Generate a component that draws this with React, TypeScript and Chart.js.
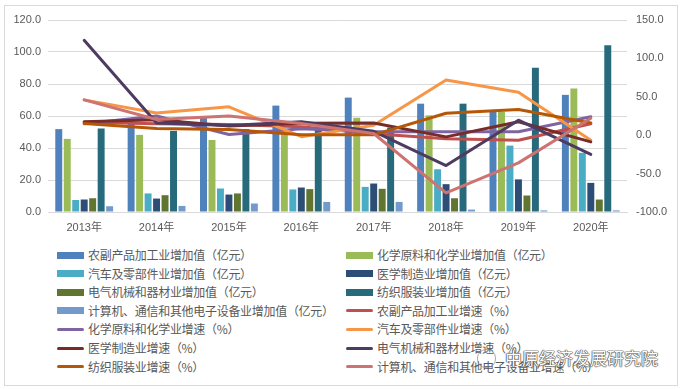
import React, { useEffect, useRef } from "react";
import { Chart, registerables } from "chart.js";

Chart.register(...registerables);

const categories = ["2013年", "2014年", "2015年", "2016年", "2017年", "2018年", "2019年", "2020年"];

// 增加值（亿元） — left axis
const nongfuValue = [51.8, 55.2, 58.9, 66.5, 71.5, 67.7, 62.5, 73.2];
const huaxueValue = [45.7, 48.2, 45.0, 50.5, 58.9, 60.4, 62.5, 77.2];
const qicheValue = [7.5, 11.6, 14.7, 14.1, 15.7, 26.7, 41.5, 37.0];
const yixueValue = [7.8, 8.4, 10.9, 15.3, 17.8, 17.4, 20.4, 18.2];
const dianqiValue = [8.6, 10.5, 11.6, 14.3, 14.5, 8.6, 10.3, 7.8];
const fangzhiValue = [52.2, 50.7, 51.8, 51.5, 52.8, 67.7, 90.2, 104.2];
const jisuanjiValue = [3.6, 3.8, 5.3, 6.3, 6.3, 1.5, 1.0, 1.0];

// 增速（%） — right axis
const nongfuGrowth = [17, 15, 14, 11, 2, -4.5, -6.5, 15];
const huaxueGrowth = [15, 25, 1, 8.5, 4.5, 4.5, 4.5, 24];
const qicheGrowth = [46, 29, 37, -2, 13, 72, 56, -6.5];
const yixueGrowth = [17.5, 20, 12, 15.5, 16, -2.2, 17.5, -8.7];
const dianqiGrowth = [123.5, 16, 12.5, 17.5, 5, -39.5, 19.6, -25];
const fangzhiGrowth = [15.3, 8.7, 7.5, 0.5, 0.5, 28.5, 33.5, 16];
const jisuanjiGrowth = [46, 20.5, 25, 15.3, 2.2, -75, -36, 22];

const leftTicks = { min: 0, max: 120, step: 20 };
const rightTicks = { min: -100, max: 150, step: 50 };

const barLabels = [
  "农副产品加工业增加值（亿元）",
  "化学原料和化学业增加值（亿元）",
  "汽车及零部件业增加值（亿元）",
  "医学制造业增加值（亿元）",
  "电气机械和器材业增加值（亿元）",
  "纺织服装业增加值（亿元）",
  "计算机、通信和其他电子设备业增加值（亿元）",
];
const lineLabels = [
  "农副产品加工业增速（%）",
  "化学原料和化学业增速（%）",
  "汽车及零部件业增速（%）",
  "医学制造业增速（%）",
  "电气机械和器材业增速（%）",
  "纺织服装业增速（%）",
  "计算机、通信和其他电子设备业增速（%）",
];
const barSeries = [nongfuValue, huaxueValue, qicheValue, yixueValue, dianqiValue, fangzhiValue, jisuanjiValue];
const lineSeries = [nongfuGrowth, huaxueGrowth, qicheGrowth, yixueGrowth, dianqiGrowth, fangzhiGrowth, jisuanjiGrowth];
const barColors = ["#4F81BD", "#9BBB59", "#4BACC6", "#2C4D75", "#5F7530", "#276A7C", "#729ACA"];
const lineColors = ["#C0504D", "#8064A2", "#F79646", "#772C2A", "#4D3B62", "#B65708", "#CD7371"];

const FONT = '"Liberation Sans", "Noto Sans CJK SC", sans-serif';
const TEXT = "#595959";
const GRID = "#D9D9D9";

export default function App() {
  const ref = useRef<HTMLCanvasElement | null>(null);

  useEffect(() => {
    if (!ref.current) return;
    const datasets: any[] = [];
    barSeries.forEach((data, i) => {
      datasets.push({
        type: "bar",
        label: barLabels[i],
        data,
        backgroundColor: barColors[i],
        borderWidth: 0,
        yAxisID: "y",
        order: 100,
        categoryPercentage: 0.82,
        barPercentage: 0.82,
      });
    });
    lineSeries.forEach((data, i) => {
      datasets.push({
        type: "line",
        label: lineLabels[i],
        data,
        borderColor: lineColors[i],
        backgroundColor: lineColors[i],
        borderWidth: 3,
        pointRadius: 0,
        tension: 0,
        fill: false,
        yAxisID: "y1",
        order: 50 - i,
        borderJoinStyle: "round",
        borderCapStyle: "round",
      });
    });

    const chart = new Chart(ref.current, {
      type: "bar",
      data: { labels: categories, datasets },
      options: {
        animation: false,
        responsive: false,
        devicePixelRatio: 1,
        layout: { padding: { top: 20, bottom: 0, left: 0, right: 0 } },
        plugins: { legend: { display: false }, tooltip: { enabled: false } },
        scales: {
          x: {
            grid: { display: false, drawTicks: false },
            border: { display: true, color: GRID },
            ticks: { color: TEXT, font: { family: FONT, size: 11 }, padding: 9, maxRotation: 0 },
            afterFit: (s: any) => { s.height = 28; },
          },
          y: {
            position: "left",
            min: leftTicks.min,
            max: leftTicks.max,
            ticks: {
              stepSize: leftTicks.step,
              color: TEXT,
              font: { family: FONT, size: 11 },
              padding: 7,
              callback: (v: any) => Number(v).toFixed(1),
            },
            grid: { color: GRID, drawTicks: false },
            border: { display: false },
            afterFit: (s: any) => { s.width = 48; },
          },
          y1: {
            position: "right",
            min: rightTicks.min,
            max: rightTicks.max,
            ticks: {
              stepSize: rightTicks.step,
              color: TEXT,
              font: { family: FONT, size: 11 },
              padding: 9,
              callback: (v: any) => Number(v).toFixed(1),
            },
            grid: { display: false, drawTicks: false },
            border: { display: false },
            afterFit: (s: any) => { s.width = 53; },
          },
        },
      },
    });
    return () => chart.destroy();
  }, []);

  const legendItems = [
    ...barLabels.map((l, i) => ({ label: l, color: barColors[i], bar: true })),
    ...lineLabels.map((l, i) => ({ label: l, color: lineColors[i], bar: false })),
  ];

  return (
    <div style={{ position: "fixed", left: 0, top: 0, width: 680, height: 389, background: "#fff", overflow: "hidden" }}>
      <div style={{ position: "absolute", left: 4, top: 5, width: 672, height: 379, border: `1px solid ${GRID}` }} />
      <canvas ref={ref} width={680} height={240} style={{ position: "absolute", left: 0, top: 0, width: 680, height: 240 }} />
      {legendItems.map((it, i) => {
        const row = Math.floor(i / 2);
        const col = i % 2;
        const left = col === 0 ? 57 : 346;
        const cy = 255 + row * 18.6;
        return (
          <div key={i} style={{ position: "absolute", left, top: cy - 9, height: 18, display: "flex", alignItems: "center", whiteSpace: "nowrap" }}>
            <div style={{ width: 27, height: it.bar ? 7 : 3, background: it.color, borderRadius: it.bar ? 0 : 1.5, marginRight: 4 }} />
            <span style={{ fontFamily: '"Noto Sans CJK SC", sans-serif', fontSize: 12, color: TEXT, lineHeight: "18px", letterSpacing: -0.3 }}>{it.label}</span>
          </div>
        );
      })}
      <div style={{ position: "absolute", left: 477, top: 349, width: 17, height: 17, borderRadius: 9, border: "1.5px solid #888", opacity: 0.7 }} />
      <div style={{ position: "absolute", left: 505, top: 347, fontFamily: '"Noto Sans CJK SC", sans-serif', fontSize: 17, lineHeight: "22px", color: "#fff", textShadow: "0 0 1px #444, 0 0 1px #444, 0 0 1px #444, 0 0 1px #444", whiteSpace: "nowrap" }}>中原经济发展研究院</div>
    </div>
  );
}
